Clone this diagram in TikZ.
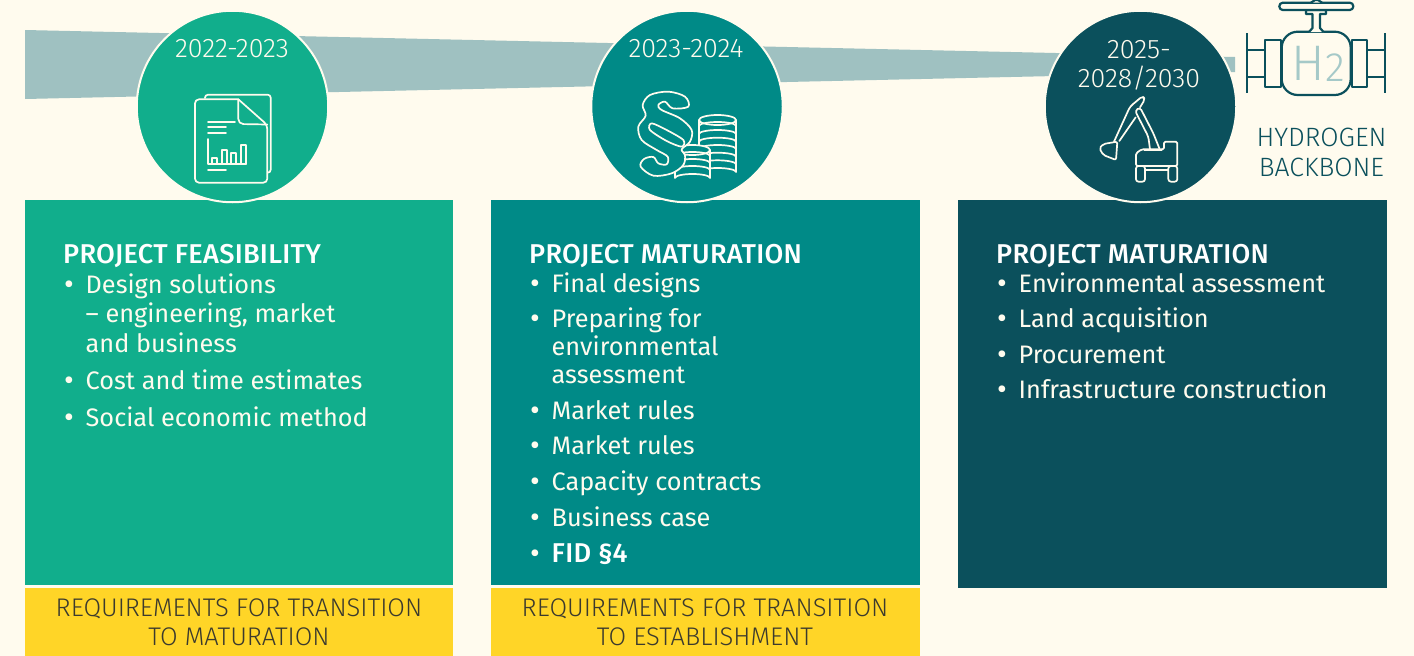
\documentclass[tikz,border=0pt]{standalone}
\usepackage{fontspec}
\setmainfont{Fira Sans}
\newfontfamily\lightfont[UprightFont=* Light]{Fira Sans}
\newfontfamily\headfont[UprightFont=* Medium,LetterSpace=1]{Fira Sans}
\usetikzlibrary{positioning}
\definecolor{paper}{HTML}{FFFBEE}
\definecolor{bandgrey}{HTML}{9FC1C1}
\definecolor{feasgreen}{HTML}{11AE8C}
\definecolor{matteal}{HTML}{008A87}
\definecolor{darkteal}{HTML}{0B505C}
\definecolor{reqyellow}{HTML}{FFD527}
\definecolor{reqtext}{HTML}{3B3A2E}
\definecolor{htwo}{HTML}{A5C9C8}
\tikzset{
	x=1pt, y=-1pt,
	phase/.style={circle, draw=paper, line width=2pt, minimum size=191.5pt, inner sep=0pt},
	yearlabel/.style={text=paper, font=\lightfont\fontsize{26.8}{29}\selectfont, align=center},
	head/.style={anchor=base west, inner sep=0pt, text=white, font=\headfont\fontsize{27.2}{29}\selectfont},
	entry/.style={anchor=base west, inner sep=0pt, text=paper, font=\fontsize{25.3}{29}\selectfont},
	dotmark/.style={anchor=base, inner sep=0pt, text=paper, font=\fontsize{30}{29}\selectfont},
	reqlabel/.style={anchor=base, inner sep=0pt, text=reqtext, font=\lightfont\fontsize{25.5}{29}\selectfont},
	backbone/.style={anchor=base, inner sep=0pt, text=darkteal, font=\lightfont\fontsize{26.5}{29}\selectfont},
	glyph/.style={draw=paper, line width=1.7pt, line join=round, line cap=round},
	valve/.style={draw=darkteal, line width=2.2pt, line join=round},
}
\begin{document}
\begin{tikzpicture}
	
	% ------------------------------------------------
	% Ensure the dimensions of graphic are appropriate
	\useasboundingbox (0,0) rectangle (1414,656);
	\fill[paper] (0,0) rectangle (1414,656);
	
	% ----------------
	% Timeline band
	\fill[bandgrey] (25,30) -- (1235,57) -- (1235,72) -- (25,99) -- cycle;
	
	% ----------------
	% Panels
	\fill[feasgreen] (25,200) rectangle (453,585);
	\fill[matteal] (491,200) rectangle (920,585);
	\fill[darkteal] (958,200) rectangle (1387,588);
	\fill[reqyellow] (25,588) rectangle (453,656);
	\fill[reqyellow] (491,588) rectangle (920,656);
	
	% ----------------
	% Phase circles
	\node[phase, fill=feasgreen] (PhaseA) at (232.5,106.5) {};
	\node[phase, fill=matteal] (PhaseB) at (687,106.5) {};
	\node[phase, fill=darkteal] (PhaseC) at (1140.5,106.5) {};
	
	\node[yearlabel] (YearA) at (232,49) {2022-2023};
	\node[yearlabel] (YearB) at (686,49) {2023-2024};
	\node[yearlabel] (YearC) at (1139,65) {2025-\\[0pt]2028/2030};
	
	% ----------------
	% Report icon
	\draw[glyph] (205,98) [rounded corners=3pt] -- (205,94.7) -- (270.7,94.7) -- (270.7,172.7) -- (267.3,172.7);
	\draw[glyph, fill=feasgreen] [rounded corners=4pt] (238.3,99.3) -- (195,99.3) -- (195,182.7) -- (267.3,182.7) -- (267.3,125) [sharp corners] -- (238.3,99.3);
	\draw[glyph] (238.3,99.3) [rounded corners=5pt] -- (238.3,124) -- (267.3,124.5);
	\draw[glyph] (208,122) -- (235,122);
	\draw[glyph] (208,127) -- (226,127);
	\draw[glyph] (208,133) -- (226,133);
	\draw[glyph] (207.7,139) -- (207.7,164.3) -- (246,164.3);
	\foreach \barx/\bartop in {212/158, 222/150, 231/153, 241/145}
		\draw[glyph] (\barx,164.3) rectangle (\barx+5,\bartop);
	\draw[glyph] (208,170) -- (226,170);
	
	% ----------------
	% Coins
	\draw[glyph, fill=matteal] (699,120) -- (699,172) arc[start angle=180, end angle=360, x radius=18.5, y radius=4] -- (736,120);
	\draw[glyph, fill=matteal] (717.5,120) ellipse[x radius=18.5, y radius=5];
	\foreach \coiny in {126,134,141.7,149,156.7,164.3}
		\draw[glyph] (699,\coiny) arc[start angle=180, end angle=360, x radius=18.5, y radius=4];
	
	\draw[glyph, fill=matteal] (675,150) -- (675,178) arc[start angle=180, end angle=360, x radius=17.5, y radius=4] -- (710,150);
	\draw[glyph, fill=matteal] (692.5,150) ellipse[x radius=17.5, y radius=5];
	\foreach \coiny in {156,163,170}
		\draw[glyph] (675,\coiny) arc[start angle=180, end angle=360, x radius=17.5, y radius=4];
	
	% ----------------
	% Paragraph sign
	\begin{scope}[shift={(630,85)}, x=0.3333pt, y=-0.3333pt]
		\draw[glyph, fill=matteal] plot[smooth cycle, tension=0.55] coordinates {
			(175,65) (165,35) (115,20) (60,30) (38,60) (47,92) (25,125) (35,165)
			(80,195) (113,215) (110,238) (85,235) (70,216) (42,222) (32,245) (70,272)
			(125,265) (160,240) (165,210) (155,193) (180,170) (185,135) (150,100)
			(95,75) (85,60) (105,50) (128,70)};
		\draw[glyph] plot[smooth cycle, tension=0.5] coordinates {
			(65,115) (110,135) (160,165) (155,185) (110,168) (60,135)};
	\end{scope}
	
	% ----------------
	% Excavator icon
	\begin{scope}[shift={(1090,90)}, x=0.3333pt, y=-0.3333pt]
		\draw[glyph, rounded corners=1.5pt] (138,190) -- (155,178) -- (222,178) -- (222,155) -- (262,155) -- (262,228) -- (138,228) -- cycle;
		\draw[glyph, rounded corners=2.5pt] (138,228) rectangle (165,275);
		\draw[glyph, rounded corners=2.5pt] (235,228) rectangle (262,275);
		\draw[glyph] (165,240) -- (235,240);
		\draw[glyph, rounded corners=3pt] (180,178) -- (175,140) -- (135,62) -- (150,52) -- (190,130) -- (208,175);
		\draw[glyph, rounded corners=3pt] (72,155) -- (120,50) -- (158,18) -- (165,28) -- (150,52);
		\draw[glyph] (88,153) -- (137,82);
		\draw[glyph, rounded corners=2pt, fill=darkteal] (28,175) -- (40,162) -- (82,155) -- (78,210) -- (40,195) -- cycle;
		\draw[glyph, line width=1.9pt] (163,180) -- (215,180);
	\end{scope}
	
	% ----------------
	% Valve
	\draw[valve] (1247.3,33) -- (1247.3,92.7);
	\draw[valve] (1385,33) -- (1385,92.7);
	\draw[valve] (1247.3,50) -- (1265,50);
	\draw[valve] (1247.3,76.7) -- (1265,76.7);
	\draw[valve] (1367.3,50) -- (1385,50);
	\draw[valve] (1367.3,76.7) -- (1385,76.7);
	\draw[valve] (1265,40) rectangle (1280.7,86.7);
	\draw[valve] (1351.7,40) rectangle (1367.3,86.7);
	\draw[valve, rounded corners=16pt] (1281.7,31.7) rectangle (1350.7,95);
	\draw[valve, fill=paper] (1309,32) -- (1312.5,28) -- (1312.5,14) -- (1306,14) -- (1306,10) -- (1326,10) -- (1326,14) -- (1320,14) -- (1320,28) -- (1323.5,32);
	\draw[valve, rounded corners=3.5pt, fill=paper] (1279.3,2.7) rectangle (1353.3,10);
	\draw[valve, fill=paper] (1311,2.7) -- (1315,0) -- (1318,0) -- (1322,2.7);
	\node[text=htwo, inner sep=0pt, anchor=base west, font=\lightfont\fontsize{50}{60}\selectfont] (HydrogenH) at (1291,80) {H};
	\node[text=htwo, inner sep=0pt, anchor=base west, font=\lightfont\fontsize{41}{40}\selectfont] (HydrogenTwo) at (1325,81) {2};
	
	\node[backbone] (HydrogenA) at (1321.5,146) {HYDROGEN};
	\node[backbone] (HydrogenB) at (1321.5,176) {BACKBONE};
	
	% ------------------------------------------------
	% Panel texts
	\node[head] (HeadA) at (63,263) {PROJECT FEASIBILITY};
	\foreach \n/\ybase/\txt in {1/293/Design solutions, 4/389/Cost and time estimates, 5/426/Social economic method}{
		\node[dotmark] (BulletA\n) at (69,\ybase+1.5) {•};
		\node[entry] (EntryA\n) at (85.5,\ybase) {\txt};
	}
	\node[entry] (EntryA2) at (85.5,322) {– engineering, market};
	\node[entry] (EntryA3) at (85.5,352) {and business};
	
	\node[head] (HeadB) at (529,263) {PROJECT MATURATION};
	\foreach \n/\ybase/\txt in {1/292/Final designs, 2/327/Preparing for, 5/419/Market rules, 6/454/Market rules, 7/490/Capacity contracts, 8/526/Business case}{
		\node[dotmark] (BulletB\n) at (535,\ybase+1.5) {•};
		\node[entry] (EntryB\n) at (551.5,\ybase) {\txt};
	}
	\node[entry] (EntryB3) at (551.5,355) {environmental};
	\node[entry] (EntryB4) at (551.5,383) {assessment};
	\node[dotmark] (BulletB9) at (535,563.5) {•};
	\node[head] (EntryB9) at (551.5,562) {FID §4};
	
	\node[head] (HeadC) at (996,263) {PROJECT MATURATION};
	\foreach \n/\ybase/\txt in {1/292/Environmental assessment, 2/327/Land acquisition, 3/363/Procurement, 4/398/Infrastructure construction}{
		\node[dotmark] (BulletC\n) at (1002,\ybase+1.5) {•};
		\node[entry] (EntryC\n) at (1018.5,\ybase) {\txt};
	}
	
	\node[reqlabel] (ReqA) at (239,616) {REQUIREMENTS FOR TRANSITION};
	\node[reqlabel] (ReqB) at (239,645) {TO MATURATION};
	\node[reqlabel] (ReqC) at (705,616) {REQUIREMENTS FOR TRANSITION};
	\node[reqlabel] (ReqD) at (705,645) {TO ESTABLISHMENT};
	
\end{tikzpicture}
\end{document}
